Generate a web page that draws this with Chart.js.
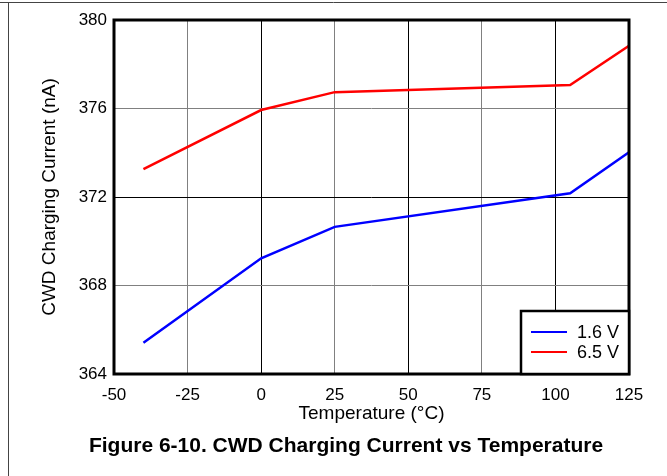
<!DOCTYPE html>
<html>
<head>
<meta charset="utf-8">
<script src="https://cdn.jsdelivr.net/npm/chart.js@4"></script>
<style>
  html, body { margin: 0; padding: 0; background: #fff; }
  #wrap { width: 667px; height: 476px; position: relative; }
</style>
</head>
<body>
<div id="wrap"><canvas id="cwdChart" width="667" height="476"></canvas></div>
<script>
const temps = [-40, 0, 25, 105, 125];
const current16V = [365.41, 369.23, 370.65, 372.17, 374.02];
const current65V = [373.26, 375.93, 376.74, 377.06, 378.84];
const seriesLabels = ['1.6 V', '6.5 V'];
const seriesColors = ['#0000ff', '#ff0000'];
const xTicks = [-50, -25, 0, 25, 50, 75, 100, 125];
const yTicks = [364, 368, 372, 376, 380];
const caption = 'Figure 6-10. CWD Charging Current vs Temperature';

const FONT = 'Liberation Sans, Arial, Helvetica, sans-serif';

// odd grid lines are grey, even ones black (like the original)
const gridColor = ctx => (ctx.index % 2 === 1 ? '#808080' : '#000000');

// thin page frame at top/left, caption under the chart
const framePlugin = {
    id: 'pageFrame',
    beforeDraw(chart) {
        const c = chart.ctx;
        c.save();
        c.fillStyle = '#fff';
        c.fillRect(0, 0, chart.width, chart.height);
        c.strokeStyle = '#444';
        c.lineWidth = 1;
        c.beginPath();
        c.moveTo(0, 2.5);
        c.lineTo(chart.width, 2.5);
        c.moveTo(8.5, 2.5);
        c.lineTo(8.5, chart.height);
        c.stroke();

        c.fillStyle = '#000';
        c.font = 'bold 21px ' + FONT;
        c.textAlign = 'center';
        c.textBaseline = 'middle';
        c.fillText(caption, 346, 446);
        c.restore();
    }
};

// heavy box round the plot area + legend in bottom right corner
const boxLegendPlugin = {
    id: 'boxLegend',
    afterDatasetsDraw(chart) {
        const c = chart.ctx;
        const a = chart.chartArea;
        c.save();
        c.strokeStyle = '#000';
        c.lineWidth = 3;
        c.strokeRect(a.left, a.top, a.right - a.left, a.bottom - a.top);

        const w = 108, h = 63;
        const x0 = a.right - w, y0 = a.bottom - h;
        c.fillStyle = '#fff';
        c.fillRect(x0, y0, w, h);
        c.lineWidth = 2.5;
        c.strokeRect(x0, y0, w, h);

        c.font = '18px ' + FONT;
        c.textBaseline = 'middle';
        c.textAlign = 'left';
        chart.data.datasets.forEach((ds, i) => {
            const y = y0 + 21 + i * 20;
            c.strokeStyle = ds.borderColor;
            c.lineWidth = 2;
            c.beginPath();
            c.moveTo(x0 + 10, y);
            c.lineTo(x0 + 46, y);
            c.stroke();
            c.fillStyle = '#000';
            c.fillText(ds.label, x0 + 56, y + 1);
        });
        c.restore();
    }
};

const ctx = document.getElementById('cwdChart').getContext('2d');
new Chart(ctx, {
    type: 'line',
    data: {
        datasets: [
            {
                label: seriesLabels[0],
                data: temps.map((t, i) => ({ x: t, y: current16V[i] })),
                borderColor: seriesColors[0],
                borderWidth: 2.5,
                pointRadius: 0,
                tension: 0
            },
            {
                label: seriesLabels[1],
                data: temps.map((t, i) => ({ x: t, y: current65V[i] })),
                borderColor: seriesColors[1],
                borderWidth: 2.5,
                pointRadius: 0,
                tension: 0
            }
        ]
    },
    options: {
        responsive: false,
        animation: false,
        devicePixelRatio: 1,
        layout: {
            padding: { left: 20, right: 38, top: 20, bottom: 51 }
        },
        plugins: {
            legend: { display: false },
            tooltip: { enabled: false },
            title: { display: false }
        },
        scales: {
            x: {
                type: 'linear',
                min: -50,
                max: 125,
                afterBuildTicks: axis => { axis.ticks = xTicks.map(v => ({ value: v })); },
                afterFit: axis => { axis.height = 51; },
                ticks: {
                    color: '#000',
                    font: { family: FONT, size: 17 },
                    padding: 11,
                    maxRotation: 0
                },
                grid: { color: gridColor, lineWidth: 1, drawTicks: false },
                border: { display: false },
                title: {
                    display: true,
                    text: 'Temperature (°C)',
                    color: '#000',
                    font: { family: FONT, size: 19 },
                    padding: { top: 0, bottom: 0 }
                }
            },
            y: {
                type: 'linear',
                min: 364,
                max: 380,
                afterBuildTicks: axis => { axis.ticks = yTicks.map(v => ({ value: v })); },
                afterFit: axis => { axis.width = 94; },
                ticks: {
                    color: '#000',
                    font: { family: FONT, size: 17 },
                    padding: 7
                },
                grid: { color: gridColor, lineWidth: 1, drawTicks: false },
                border: { display: false },
                title: {
                    display: true,
                    text: 'CWD Charging Current (nA)',
                    color: '#000',
                    font: { family: FONT, size: 19 },
                    padding: { top: 18, bottom: 0 }
                }
            }
        }
    },
    plugins: [framePlugin, boxLegendPlugin]
});
</script>
</body>
</html>
